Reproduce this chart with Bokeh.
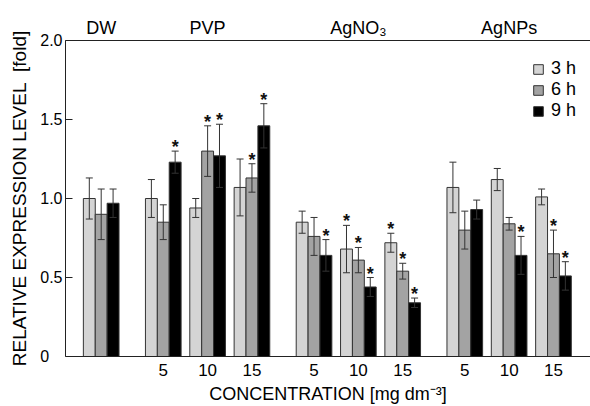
import numpy as np
from bokeh.plotting import figure
from bokeh.models import (ColumnDataSource, Whisker, TeeHead, FixedTicker, LinearAxis,
                          Legend, LegendItem, Range1d)
from bokeh.embed import file_html
from bokeh.resources import INLINE
from bokeh.core.properties import value

# ---------------- data ----------------
groups = ["DW", "PVP", "AgNO\u2083", "AgNPs"]
concentrations = [[""], ["5", "10", "15"], ["5", "10", "15"], ["5", "10", "15"]]
times = ["3 h", "6 h", "9 h"]

h3 = [1.00, 1.00, 0.94, 1.07, 0.85, 0.68, 0.72, 1.07, 1.12, 1.01]
h6 = [0.90, 0.85, 1.30, 1.13, 0.76, 0.61, 0.54, 0.80, 0.84, 0.65]
h9 = [0.97, 1.23, 1.27, 1.46, 0.64, 0.44, 0.34, 0.93, 0.64, 0.51]

err3 = [0.13, 0.12, 0.06, 0.18, 0.07, 0.15, 0.06, 0.16, 0.07, 0.05]
err6 = [0.16, 0.11, 0.16, 0.09, 0.12, 0.08, 0.05, 0.12, 0.04, 0.15]
err9 = [0.09, 0.07, 0.20, 0.14, 0.10, 0.06, 0.03, 0.06, 0.12, 0.09]

sig3 = [0, 0, 0, 0, 0, 1, 1, 0, 0, 0]
sig6 = [0, 0, 1, 1, 0, 1, 1, 0, 0, 1]
sig9 = [0, 1, 1, 1, 1, 1, 1, 0, 1, 1]

y_ticks = [0, 0.5, 1.0, 1.5, 2.0]
y_tick_labels = ["0\u2008\u2007", "0.5", "1.0", "1.5", "2.0"]

# ---------------- layout helpers ----------------
FONT = "Liberation Sans"
GAP = 1.4
pos, tick_labels, group_centers = [], [], []
xc = 0.0
for concs in concentrations:
    start = xc
    for c in concs:
        pos.append(round(xc, 6))
        tick_labels.append(c)
        xc += 1.0
    group_centers.append(round((start + xc - 1.0) / 2.0, 6))
    xc += GAP - 1.0
pos = np.array(pos)

W = 0.268
offsets = [-W, 0.0, W]
fills = ["#d4d4d4", "#a3a3a3", "#000000"]
EDGE = "#333333"

p = figure(width=590, height=406, output_backend="svg", toolbar_location=None,
           x_range=Range1d(-0.805, 11.035), y_range=Range1d(0, 2.0),
           min_border_left=65, min_border_right=0, min_border_top=40, min_border_bottom=50)
p.xgrid.visible = False
p.ygrid.visible = False
p.outline_line_color = None
p.background_fill_color = "white"

vals = [h3, h6, h9]
errs = [err3, err6, err9]
sigs = [sig3, sig6, sig9]

bar_renderers = []
for k in range(3):
    v = np.array(vals[k])
    e = np.array(errs[k])
    src = ColumnDataSource(dict(x=pos + offsets[k], top=v, upper=v + e, lower=v - e))
    r = p.vbar(x="x", top="top", bottom=0, width=W, source=src,
               fill_color=fills[k], line_color=EDGE, line_width=1)
    bar_renderers.append(r)
    wh = Whisker(source=src, base="x", upper="upper", lower="lower", dimension="height",
                 line_color=EDGE, line_width=1,
                 upper_head=TeeHead(size=7, line_color=EDGE, line_width=1),
                 lower_head=TeeHead(size=7, line_color=EDGE, line_width=1))
    wh.level = "annotation"
    p.add_layout(wh)
    mask = np.array(sigs[k]) == 1
    ssrc = ColumnDataSource(dict(x=(pos + offsets[k])[mask], y=(v + e)[mask],
                                 t=["*"] * int(mask.sum())))
    p.text(x="x", y="y", text="t", source=ssrc, text_align="center",
           text_baseline="alphabetic", y_offset=-4, text_font=value(FONT),
           text_font_size="18px", text_font_style="bold", text_color="#111111")

legend = Legend(items=[LegendItem(label=times[k], renderers=[bar_renderers[k]]) for k in range(3)],
                location=(467, 235), padding=0, margin=0, spacing=0,
                glyph_width=12, glyph_height=12, label_standoff=7, label_height=18,
                label_text_font=FONT, label_text_font_size="18px", label_text_color="black",
                border_line_color=None, background_fill_alpha=0)
p.add_layout(legend)

# y axis
ya = p.yaxis[0]
ya.ticker = FixedTicker(ticks=y_ticks)
ya.major_label_overrides = {float(t): s for t, s in zip(y_ticks, y_tick_labels)}
ya.minor_tick_line_color = None
ya.major_tick_in = 7
ya.major_tick_out = 0
ya.major_label_standoff = 3
ya.axis_line_color = "#222222"
ya.major_tick_line_color = "#222222"
ya.major_label_text_font = FONT
ya.major_label_text_font_size = "16px"
ya.major_label_text_color = "black"
ya.axis_label = "RELATIVE EXPRESSION LEVEL\u00a0 [fold]"
ya.axis_label_text_font = FONT
ya.axis_label_text_font_size = "19px"
ya.axis_label_text_font_style = "normal"
ya.axis_label_text_color = "black"
ya.axis_label_standoff = 7

# bottom x axis
xa = p.xaxis[0]
xa.ticker = FixedTicker(ticks=list(pos))
xa.major_label_overrides = {float(pp): lab for pp, lab in zip(pos, tick_labels)}
xa.minor_tick_line_color = None
xa.major_tick_in = 0
xa.major_tick_out = 0
xa.major_label_standoff = 7
xa.axis_line_color = "#222222"
xa.major_label_text_font = FONT
xa.major_label_text_font_size = "17px"
xa.major_label_text_color = "black"
xa.axis_label = "CONCENTRATION [mg dm\u207b\u00b3]"
xa.axis_label_text_font = FONT
xa.axis_label_text_font_size = "18px"
xa.axis_label_text_font_style = "normal"
xa.axis_label_text_color = "black"
xa.axis_label_standoff = 5

# top axis with group names
ta = LinearAxis(ticker=FixedTicker(ticks=group_centers),
                major_label_overrides={float(g): n for g, n in zip(group_centers, groups)})
ta.minor_tick_line_color = None
ta.major_tick_in = 0
ta.major_tick_out = 0
ta.major_label_standoff = 3
ta.axis_line_color = "#222222"
ta.major_label_text_font = FONT
ta.major_label_text_font_size = "18px"
ta.major_label_text_color = "black"
p.add_layout(ta, "above")

open("out.html", "w").write(file_html(p, INLINE))
